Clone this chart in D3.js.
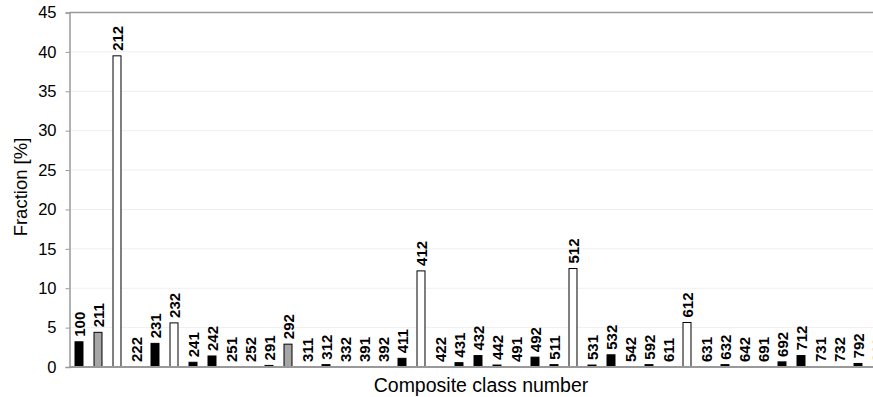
<!DOCTYPE html>
<html><head><meta charset="utf-8">
<script src="https://cdn.jsdelivr.net/npm/d3@7/dist/d3.min.js"></script>
<style>body{margin:0;background:#fff}svg{display:block}text{font-family:"Liberation Sans",Arial,sans-serif}</style>
</head><body><svg id="c" width="873" height="397"></svg>
<script>
const categories = ["100","211","212","222","231","232","241","242","251","252","291","292","311","312","332","391","392","411","412","422","431","432","442","491","492","511","512","531","532","542","592","611","612","631","632","642","691","692","712","731","732","792","811"];
const values = [3.2,4.4,39.5,0,3.0,5.6,0.6,1.4,0,0,0.2,2.9,0,0.3,0,0,0,1.1,12.2,0,0.55,1.45,0.25,0,1.25,0.3,12.5,0.25,1.55,0,0.3,0,5.65,0,0.3,0,0,0.65,1.45,0,0,0.45,0];
const kinds = ["b","g","w","b","b","w","b","b","b","b","b","g","b","b","b","b","b","b","w","b","b","b","b","b","b","b","w","b","b","b","b","b","w","b","b","b","b","b","b","b","b","b","b"];
const yTicks = [0,5,10,15,20,25,30,35,40,45];
const fills = {b:"#000", g:"#a6a6a6", w:"#fff"};

(function(){
const svg = d3.select("#c");
const pl = 69.5, pt = 12.5, pb = 367;
const step = 19;
const x = d3.scaleBand().domain(categories).range([pl, pl + step*categories.length]).paddingInner(0.58).paddingOuter(0.29);
const y = d3.scaleLinear().domain([0,45]).range([pb, pt]);
const pr = pl + step*categories.length;

svg.append("g").selectAll("line").data(yTicks.filter(t=>t>0 && t<45)).join("line")
  .attr("x1", pl).attr("x2", pr).attr("y1", d=>y(d)).attr("y2", d=>y(d))
  .attr("stroke","#efefef").attr("stroke-width",1);

svg.append("line").attr("x1",pl).attr("x2",pr).attr("y1",pt).attr("y2",pt).attr("stroke","#999").attr("stroke-width",1.5);

const ya = svg.append("g").attr("transform",`translate(${pl},0)`).call(d3.axisLeft(y).tickValues(yTicks).tickSize(4).tickPadding(9));
ya.select(".domain").attr("stroke","#999").attr("stroke-width",1.5);
ya.selectAll(".tick line").attr("stroke","#999");
ya.selectAll("text").attr("font-size",16.5).attr("fill","#000").attr("font-family","Liberation Sans, Arial, sans-serif");

svg.append("g").selectAll("rect").data(categories).join("rect")
  .attr("x", d=>x(d)).attr("width", x.bandwidth())
  .attr("y", (d,i)=>y(values[i])).attr("height",(d,i)=>pb - y(values[i]))
  .attr("fill",(d,i)=>fills[kinds[i]])
  .attr("stroke",(d,i)=>values[i]>0?"#000":"none").attr("stroke-width",1);

svg.append("line").attr("x1",pl).attr("x2",pr).attr("y1",pb).attr("y2",pb).attr("stroke","#999").attr("stroke-width",2);

svg.append("g").selectAll("text").data(categories).join("text")
  .attr("transform",(d,i)=>`translate(${x(d)+x.bandwidth()/2+5.5},${y(values[i])-5}) rotate(-90)`)
  .attr("font-size",15).attr("font-weight","bold").attr("text-anchor","start")
  .text(d=>d);

svg.append("text").attr("transform","translate(27,187) rotate(-90)").attr("text-anchor","middle").attr("font-size",18.5).text("Fraction [%]");
svg.append("text").attr("x",481).attr("y",392).attr("text-anchor","middle").attr("font-size",19.5).text("Composite class number");
})();
</script></body></html>
